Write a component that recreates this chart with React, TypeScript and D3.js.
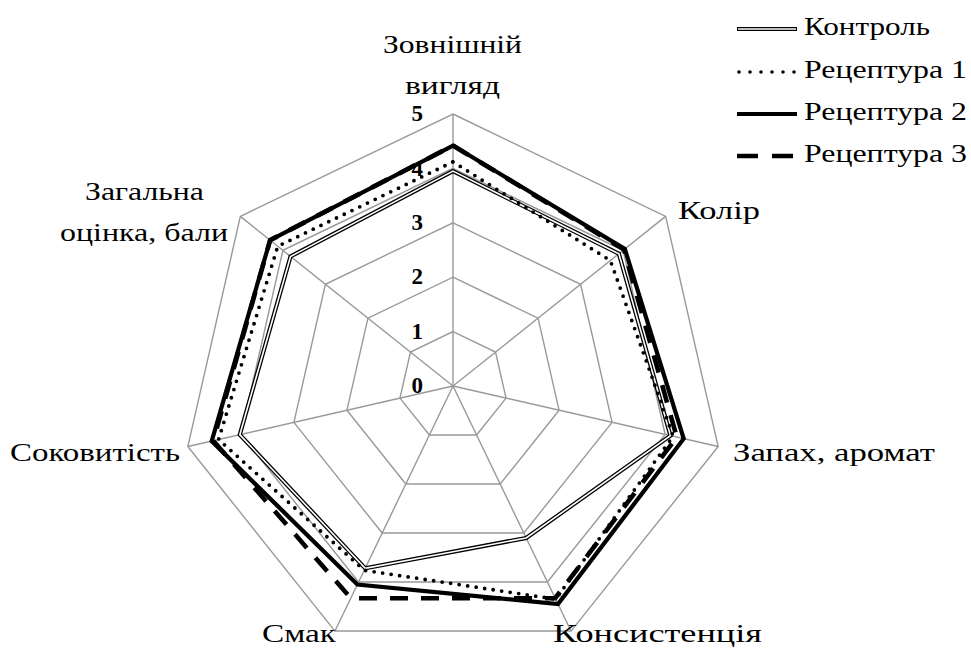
import React from "react";
import * as d3 from "d3";

const axes = [
  "Зовнішній вигляд",
  "Колір",
  "Запах, аромат",
  "Консистенція",
  "Смак",
  "Соковитість",
  "Загальна оцінка, бали",
];
const ticks = [0, 1, 2, 3, 4, 5];
const control = [3.95, 3.9, 4.1, 3.1, 3.72, 4.02, 3.82];
const rec1 = [4.12, 3.7, 4.15, 4.35, 3.76, 4.42, 4.12];
const rec2 = [4.42, 4.04, 4.35, 4.45, 4.05, 4.55, 4.3];
const rec3 = [4.42, 4.02, 4.22, 4.33, 4.33, 4.52, 4.3];
const seriesNames = ["Контроль", "Рецептура 1", "Рецептура 2", "Рецептура 3"];

const W = 971;
const H = 657;
const cx = 453;
const cy = 386;
const R = 272;
const FONT = "Liberation Serif";

export default function App() {
  const r = d3.scaleLinear().domain([0, 5]).range([0, R]);
  const ang = d3
    .scaleLinear()
    .domain([0, axes.length])
    .range([0, 2 * Math.PI]);
  const radial = d3
    .lineRadial<number>()
    .angle((_, i) => ang(i))
    .radius((d) => r(d))
    .curve(d3.curveLinearClosed);
  const pt = (i: number, v: number) => {
    const a = ang(i);
    return [cx + r(v) * Math.sin(a), cy - r(v) * Math.cos(a)];
  };
  const grid = (v: number) => radial(axes.map(() => v)) as string;

  // each line: text, left x, center y, width
  const labelLines: { s: string; x: number; y: number; w: number }[] = [
    { s: "Зовнішній", x: 383, y: 47, w: 139 },
    { s: "вигляд", x: 405, y: 88, w: 95 },
    { s: "Колір", x: 678, y: 213, w: 82 },
    { s: "Запах, аромат", x: 733, y: 455, w: 202 },
    { s: "Консистенція", x: 553, y: 636, w: 209 },
    { s: "Смак", x: 262, y: 636, w: 74 },
    { s: "Соковитість", x: 10, y: 455, w: 170 },
    { s: "Загальна", x: 85, y: 194, w: 119 },
    { s: "оцінка, бали", x: 60, y: 235, w: 168 },
  ];

  const legendY = [29, 72, 114, 156];
  const legendW = [126, 163, 163, 163];
  const lx0 = 737;
  const lx1 = 797;
  const textStyle = { fontFamily: FONT };

  return (
    <svg
      width={W}
      height={H}
      style={{ position: "absolute", left: 0, top: 0, background: "#fff", fontFamily: FONT }}
    >
      <g transform={`translate(${cx},${cy})`}>
        {ticks.slice(1).map((t) => (
          <path key={t} d={grid(t)} fill="none" stroke="#999" strokeWidth={1.4} />
        ))}
      </g>
      {axes.map((a, i) => {
        const [x, y] = pt(i, 5);
        return <line key={a} x1={cx} y1={cy} x2={x} y2={y} stroke="#999" strokeWidth={1.4} />;
      })}
      {ticks.map((t) => (
        <text
          key={t}
          x={423}
          y={cy - r(t) + 2}
          textAnchor="end"
          dominantBaseline="middle"
          fontWeight="bold"
          fontSize={23}
          style={textStyle}
        >
          {t}
        </text>
      ))}
      <g transform={`translate(${cx},${cy})`}>
        <path d={radial(control) as string} fill="none" stroke="#000" strokeWidth={4.2} strokeLinejoin="miter" />
        <path d={radial(control) as string} fill="none" stroke="#fff" strokeWidth={1.6} strokeLinejoin="miter" />
        <path
          d={radial(rec1) as string}
          fill="none"
          stroke="#000"
          strokeWidth={3.8}
          strokeLinecap="round"
          strokeDasharray="0 8.6"
        />
        <path d={radial(rec2) as string} fill="none" stroke="#000" strokeWidth={4.2} strokeLinejoin="miter" />
        <path
          d={radial(rec3) as string}
          fill="none"
          stroke="#000"
          strokeWidth={4.6}
          strokeDasharray="18 13"
        />
      </g>
      {labelLines.map((l, i) => (
        <text
          key={i}
          x={l.x}
          y={l.y}
          fontSize={26}
          dominantBaseline="middle"
          textLength={l.w}
          lengthAdjust="spacingAndGlyphs"
          style={textStyle}
        >
          {l.s}
        </text>
      ))}
      {seriesNames.map((n, i) => {
        const y = legendY[i];
        let line;
        if (i === 0) {
          line = (
            <g>
              <line x1={lx0} x2={lx1} y1={y} y2={y} stroke="#000" strokeWidth={4.2} />
              <line x1={lx0 + 1} x2={lx1 - 1} y1={y} y2={y} stroke="#fff" strokeWidth={1.6} />
            </g>
          );
        } else if (i === 1) {
          line = (
            <line
              x1={lx0 + 2}
              x2={lx1}
              y1={y}
              y2={y}
              stroke="#000"
              strokeWidth={3.6}
              strokeLinecap="round"
              strokeDasharray="0 11"
            />
          );
        } else if (i === 2) {
          line = <line x1={lx0} x2={lx1} y1={y} y2={y} stroke="#000" strokeWidth={4.2} />;
        } else {
          line = (
            <line x1={lx0} x2={lx1} y1={y} y2={y} stroke="#000" strokeWidth={4.6} strokeDasharray="21 14" />
          );
        }
        return (
          <g key={n}>
            {line}
            <text
              x={804}
              y={y}
              fontSize={26}
              dominantBaseline="middle"
              textLength={legendW[i]}
              lengthAdjust="spacingAndGlyphs"
              style={textStyle}
            >
              {n}
            </text>
          </g>
        );
      })}
    </svg>
  );
}
